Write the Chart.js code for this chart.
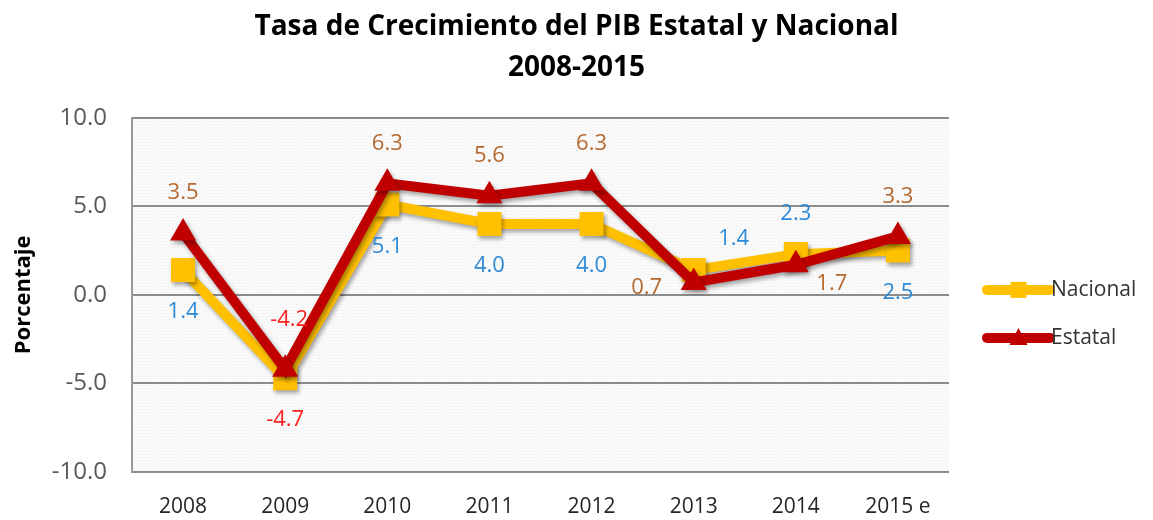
<!DOCTYPE html>
<html lang="es">
<head>
  <meta charset="UTF-8" />
  <title>Tasa de Crecimiento del PIB</title>
  <script src="https://cdn.jsdelivr.net/npm/chart.js"></script>
  <style>
    body { margin: 0; background: #fff; }
    #wrap { width: 1153px; height: 520px; }
  </style>
</head>
<body>
  <div id="wrap"><canvas id="pib" width="1153" height="520"></canvas></div>

  <script>
    // data
    const years = ['2008', '2009', '2010', '2011', '2012', '2013', '2014', '2015 e'];
    const nacional = [1.4, -4.7, 5.1, 4.0, 4.0, 1.4, 2.3, 2.5];
    const estatal = [3.5, -4.2, 6.3, 5.6, 6.3, 0.7, 1.7, 3.3];
    const yTicks = [-10, -5, 0, 5, 10];

    // where each value label sits relative to its point
    const nacionalLabelPos = ['below', 'below', 'below', 'below', 'below', 'aboveRight', 'above', 'below'];
    const estatalLabelPos = ['above', 'aboveFar', 'above', 'above', 'above', 'left', 'belowRight', 'above'];

    const FONT = "'Open Sans', 'DejaVu Sans', sans-serif";
    const offsets = {
      above: [0, -40], aboveFar: [4, -50], below: [0, 42], left: [-47, 5],
      aboveRight: [40, -31], belowRight: [36, 19]
    };

    // light dotted plot background like the Excel fill
    function makePattern(ctx) {
      const c = document.createElement('canvas');
      c.width = 3; c.height = 3;
      const p = c.getContext('2d');
      p.fillStyle = '#fafafa';
      p.fillRect(0, 0, 3, 3);
      p.fillStyle = '#eeeeee';
      p.fillRect(1, 1, 1, 1);
      return ctx.createPattern(c, 'repeat');
    }

    const plotBg = {
      id: 'plotBg',
      beforeDraw(chart) {
        const { ctx, chartArea: a } = chart;
        ctx.save();
        ctx.fillStyle = makePattern(ctx);
        ctx.fillRect(a.left, a.top, a.right - a.left, a.bottom - a.top);
        ctx.restore();
      }
    };

    const shadow = {
      id: 'shadow',
      beforeDatasetsDraw(chart) {
        const ctx = chart.ctx;
        ctx.save();
        ctx.shadowColor = 'rgba(0,0,0,0.35)';
        ctx.shadowBlur = 4;
        ctx.shadowOffsetX = 2;
        ctx.shadowOffsetY = 3;
      },
      afterDatasetsDraw(chart) {
        chart.ctx.restore();
      }
    };

    const valueLabels = {
      id: 'valueLabels',
      afterDatasetsDraw(chart) {
        const ctx = chart.ctx;
        ctx.save();
        ctx.font = '22px ' + FONT;
        ctx.textAlign = 'center';
        ctx.textBaseline = 'middle';
        chart.data.datasets.forEach((ds, i) => {
          const meta = chart.getDatasetMeta(i);
          meta.data.forEach((pt, j) => {
            const v = ds.data[j];
            const off = offsets[ds.labelPos[j]];
            ctx.fillStyle = v < 0 ? '#ff1f1f' : ds.labelColor;
            ctx.fillText(v.toFixed(1), pt.x + off[0], pt.y + off[1]);
          });
        });
        ctx.restore();
      }
    };

    const sideLegend = {
      id: 'sideLegend',
      afterDraw(chart) {
        const { ctx, chartArea: a } = chart;
        const x0 = a.right + 38, x1 = a.right + 101;
        const mid = (a.top + a.bottom) / 2;
        const rows = [chart.data.datasets[0], chart.data.datasets[1]];
        rows.forEach((ds, i) => {
          const y = mid - 5 + i * 48;
          ctx.save();
          ctx.strokeStyle = ds.borderColor;
          ctx.lineWidth = 10;
          ctx.lineCap = 'round';
          ctx.beginPath();
          ctx.moveTo(x0, y);
          ctx.lineTo(x1, y);
          ctx.stroke();
          ctx.fillStyle = ds.borderColor;
          const cx = (x0 + x1) / 2;
          if (ds.pointStyle === 'rect') {
            ctx.fillRect(cx - 8, y - 8, 16, 16);
          } else {
            ctx.beginPath();
            ctx.moveTo(cx, y - 10);
            ctx.lineTo(cx + 9, y + 7);
            ctx.lineTo(cx - 9, y + 7);
            ctx.closePath();
            ctx.fill();
          }
          ctx.fillStyle = '#333';
          ctx.font = '21px ' + FONT;
          ctx.textAlign = 'left';
          ctx.textBaseline = 'middle';
          ctx.fillText(ds.label, x1 + 1, y);
          ctx.restore();
        });
      }
    };

    new Chart(document.getElementById('pib'), {
      type: 'line',
      data: {
        labels: years,
        datasets: [
          {
            label: 'Nacional',
            data: nacional,
            borderColor: '#ffc000',
            backgroundColor: '#ffc000',
            borderWidth: 10,
            pointStyle: 'rect',
            pointRadius: 17,
            pointBorderWidth: 0,
            tension: 0,
            order: 2,
            labelPos: nacionalLabelPos,
            labelColor: '#2f8ad6'
          },
          {
            label: 'Estatal',
            data: estatal,
            borderColor: '#c00000',
            backgroundColor: '#c00000',
            borderWidth: 10,
            pointStyle: 'triangle',
            pointRadius: 15,
            pointBorderWidth: 0,
            tension: 0,
            order: 1,
            labelPos: estatalLabelPos,
            labelColor: '#b5692f'
          }
        ]
      },
      options: {
        responsive: false,
        animation: false,
        layout: { padding: 0 },
        plugins: {
          legend: { display: false },
          tooltip: { enabled: false },
          title: {
            display: true,
            text: ['Tasa de Crecimiento del PIB Estatal y Nacional', '2008-2015'],
            color: '#000',
            font: { family: FONT, size: 28, weight: 'bold', lineHeight: 1.46 },
            padding: { top: 7, bottom: 29 }
          }
        },
        scales: {
          x: {
            offset: true,
            grid: { display: false, drawTicks: false },
            border: { display: false },
            ticks: { color: '#262626', font: { family: FONT, size: 21 }, padding: 22 },
            afterFit(s) { s.height = 48; }
          },
          y: {
            min: -10,
            max: 10,
            afterBuildTicks(s) { s.ticks = yTicks.map(v => ({ value: v })); },
            grid: { color: '#8c8c8c', lineWidth: 2, drawTicks: false },
            border: { display: true, color: '#9a9a9a', width: 2 },
            ticks: {
              color: '#595959',
              font: { family: FONT, size: 24 },
              padding: 25,
              callback: v => v.toFixed(1)
            },
            title: {
              display: true,
              text: 'Porcentaje',
              color: '#000',
              font: { family: FONT, size: 22, weight: 'bold' },
              padding: { top: 11, bottom: 0 }
            },
            afterFit(s) { s.width = 132; }
          },
          // empty strip on the right that holds the legend
          side: {
            type: 'linear',
            position: 'right',
            display: true,
            grid: { display: false, drawTicks: false },
            border: { display: false },
            ticks: { display: false },
            afterFit(s) { s.width = 204; }
          }
        }
      },
      plugins: [plotBg, shadow, valueLabels, sideLegend]
    });
  </script>
</body>
</html>
